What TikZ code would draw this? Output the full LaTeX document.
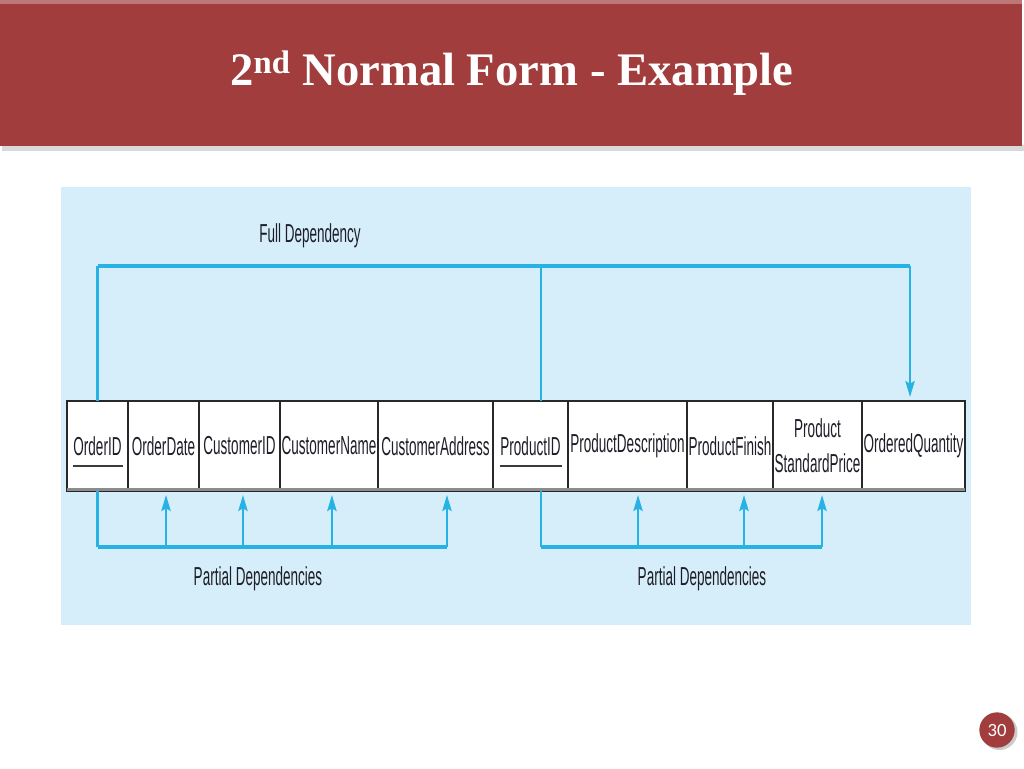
\documentclass[tikz,border=0pt]{standalone}
\usepackage{fontspec}
\setmainfont{Liberation Serif}
\newfontfamily\narrowfont[FakeStretch=0.52]{Liberation Sans}
\newfontfamily\numfont{Carlito}
\usetikzlibrary{positioning,calc,arrows.meta}

\definecolor{slidered}{RGB}{161,61,61}
\definecolor{panelblue}{RGB}{214,238,250}
\definecolor{depblue}{RGB}{38,178,228}
\definecolor{celltext}{RGB}{30,30,40}

\tikzset{every picture/.style={line width=0.75pt}}
\tikzset{
  cell/.style={draw={rgb, 255:red, 40; green, 40; blue, 40}, fill=white, line width=1.1pt,
    minimum height=67.5pt, inner sep=0pt, outer sep=0pt, align=center,
    font=\narrowfont\fontsize{19.5}{26.5}\selectfont, text=celltext},
  deplabel/.style={font=\narrowfont\fontsize{19.5}{22}\selectfont, text=celltext},
  bus/.style={draw=depblue, line width=2.6pt},
  riser/.style={draw=depblue, line width=1.8pt},
  stem/.style={draw=depblue, line width=1.6pt, shorten >=3pt, -{Stealth[length=12pt,width=7pt,inset=2pt]}},
  keyline/.style={draw={rgb, 255:red, 60; green, 60; blue, 60}, line width=1.8pt},
}

\begin{document}
\begin{tikzpicture}[x=0.75pt,y=0.75pt,yscale=-1,xscale=1]
\useasboundingbox (0,0) rectangle (1024,768);

%Shape: Rectangle [title bar]
\fill[black!15] (2,145) rectangle (1024,151);
\fill[slidered] (0,0) rectangle (1022,146);
\fill[slidered!70!white] (0,0) rectangle (1022,4);
% Text Node
\node[font=\bfseries\fontsize{35}{40}\selectfont, text=white] (title) at (512,73) {2\textsuperscript{nd} Normal Form - Example};

%Shape: Rectangle [panel]
\fill[panelblue] (61,187) rectangle (971,625);

% table cells
\node[cell, minimum width=45.75pt, anchor=north west] (oid) at (67,401) {OrderID};
\node[cell, minimum width=53.25pt, right=0pt of oid] (od) {OrderDate};
\node[cell, minimum width=60.75pt, right=0pt of od] (cid) {CustomerID};
\node[cell, minimum width=73.5pt, right=0pt of cid] (cn) {CustomerName};
\node[cell, minimum width=86.25pt, right=0pt of cn] (ca) {CustomerAddress};
\node[cell, minimum width=56.25pt, right=0pt of ca] (pid) {ProductID};
\node[cell, minimum width=89.25pt, right=0pt of pid] (pd) {ProductDescription};
\node[cell, minimum width=64.5pt, right=0pt of pd] (pf) {ProductFinish};
\node[cell, minimum width=66.75pt, right=0pt of pf] (psp) {Product\\StandardPrice};
\node[cell, minimum width=77.25pt, right=0pt of psp] (oq) {OrderedQuantity};
\draw[line width=2.5pt, black!45] ([yshift=-1pt]oid.south west) -- ([yshift=-1pt]oq.south east);

% key underlines
\draw[keyline] ($(oid.center)+(-25,20)$) -- ($(oid.center)+(25,20)$);
\draw[keyline] ($(pid.center)+(-31,20)$) -- ($(pid.center)+(31,20)$);

% dependency bars
\coordinate (fdbar) at (0,266);
\coordinate (pdbar) at (0,547);
\coordinate (pidT) at ([xshift=7.9pt]pid.north);
\coordinate (pidB) at ([xshift=7.9pt]pid.south);
\coordinate (oqT) at ([xshift=-2.6pt]oq.north);
\coordinate (odB) at ([xshift=1.9pt]od.south);
\coordinate (cidB) at ([xshift=2.6pt]cid.south);
\coordinate (cnB) at ([xshift=2.2pt]cn.south);
\coordinate (caB) at ([xshift=8.6pt]ca.south);
\coordinate (pdB) at ([xshift=7.9pt]pd.south);
\coordinate (pfB) at ([xshift=10.5pt]pf.south);
\coordinate (pspB) at ([xshift=3.4pt]psp.south);

%Full dependency
\draw[riser] (oid.north) -- (oid.north |- fdbar);
\draw[riser] (pidT) -- (pidT |- fdbar);
\draw[bus] (oid.north |- fdbar) -- (oqT |- fdbar);
\draw[stem] (oqT |- fdbar) -- (oqT);
\node[deplabel] (fdlabel) at (310,236) {Full Dependency};

%Partial dependencies (order)
\draw[riser] (oid.south) -- (oid.south |- pdbar);
\draw[bus] (oid.south |- pdbar) -- (caB |- pdbar);
\foreach \f in {odB,cidB,cnB,caB}
  \draw[stem] (\f |- pdbar) -- (\f);
\node[deplabel] (pdlabelA) at (258,579) {Partial Dependencies};

%Partial dependencies (product)
\draw[riser] (pidB) -- (pidB |- pdbar);
\draw[bus] (pidB |- pdbar) -- (pspB |- pdbar);
\foreach \f in {pdB,pfB,pspB}
  \draw[stem] (\f |- pdbar) -- (\f);
\node[deplabel] (pdlabelB) at (702,579) {Partial Dependencies};

%Shape: Circle [page number]
\fill[black!20] (999.5,732) circle (18);
\node[circle, fill=slidered, minimum size=26.5pt, inner sep=0pt, font=\numfont\fontsize{14}{14}\selectfont, text=white] (pgnum) at (997,730) {30};

\end{tikzpicture}
\end{document}
